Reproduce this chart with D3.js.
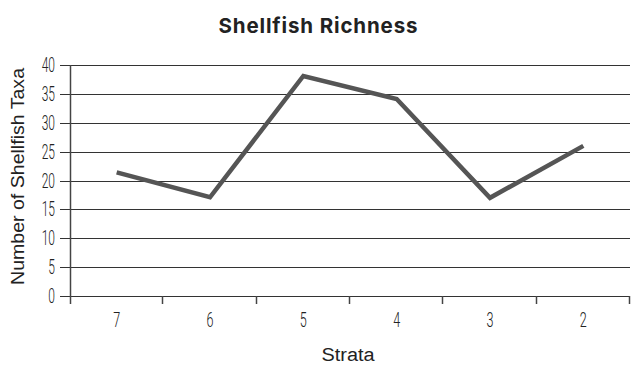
<!DOCTYPE html>
<html><head><meta charset="utf-8">
<script src="https://cdn.jsdelivr.net/npm/d3@7"></script>
<style>body{margin:0;background:#fff}svg{display:block}</style>
</head><body><div id="chart"></div>
<script>
const categories = ["7","6","5","4","3","2"];
const values = [21.4, 17.1, 38.1, 34.1, 17.0, 26.0];
const yTicks = [0,5,10,15,20,25,30,35,40];

const W = 632, H = 365;
const m = {left:70, right:2, top:65, bottom:69};
const svg = d3.select("#chart").append("svg").attr("width",W).attr("height",H);
const x = d3.scaleBand().domain(categories).range([m.left, W-m.right]);
const y = d3.scaleLinear().domain([0,40]).range([H-m.bottom, m.top]);
const tickFont = "Roboto,'DejaVu Sans',sans-serif";
const sans = "'Liberation Sans',Arial,sans-serif";
const SX = 0.6;

// gridlines
svg.append("g").selectAll("line").data(yTicks).join("line")
  .attr("x1", m.left-10).attr("x2", W-m.right)
  .attr("y1", d=>Math.round(y(d))+0.5).attr("y2", d=>Math.round(y(d))+0.5)
  .attr("stroke","#333").attr("stroke-width",1);

// y tick labels (condensed)
svg.append("g").selectAll("text").data(yTicks).join("text")
  .attr("transform", d=>`translate(${m.left-15},${y(d)+7}) scale(${SX},1)`)
  .attr("text-anchor","end").attr("font-family",tickFont).attr("font-weight",300)
  .attr("font-size",20).attr("fill","#222").text(d=>d);

// y axis line
svg.append("line").attr("x1",m.left+0.5).attr("x2",m.left+0.5)
  .attr("y1",m.top).attr("y2",H-m.bottom+8).attr("stroke","#444").attr("stroke-width",1.5);

// x axis ticks
const xt = categories.map(c=>x(c)).concat([x(categories[categories.length-1])+x.bandwidth()]);
svg.append("g").selectAll("line").data(xt.slice(1)).join("line")
  .attr("x1",d=>Math.round(d)-0.5).attr("x2",d=>Math.round(d)-0.5)
  .attr("y1",H-m.bottom).attr("y2",H-m.bottom+8).attr("stroke","#444").attr("stroke-width",1.5);

svg.append("g").selectAll("text").data(categories).join("text")
  .attr("transform", d=>`translate(${x(d)+x.bandwidth()/2},${H-m.bottom+31}) scale(${SX},1)`)
  .attr("text-anchor","middle").attr("font-family",tickFont).attr("font-weight",300)
  .attr("font-size",21).attr("fill","#222").text(d=>d);

// line
const line = d3.line().x((d,i)=>x(categories[i])+x.bandwidth()/2).y(d=>y(d));
svg.append("path").datum(values).attr("d",line).attr("fill","none")
  .attr("stroke","#555").attr("stroke-width",4.5).attr("stroke-linejoin","miter");

// title
svg.append("text").attr("x",318).attr("y",33).attr("text-anchor","middle")
  .attr("font-family","Inter,'Open Sans',sans-serif").attr("font-weight",700).attr("font-size",20.5)
  .attr("textLength",199).attr("lengthAdjust","spacing")
  .attr("fill","#222").text("Shellfish Richness");

svg.append("text").attr("x",348).attr("y",361).attr("text-anchor","middle")
  .attr("font-family",sans).attr("font-size",18).attr("fill","#222")
  .attr("textLength",53).attr("lengthAdjust","spacingAndGlyphs").text("Strata");

svg.append("text").attr("transform","translate(24,176.5) rotate(-90)").attr("text-anchor","middle")
  .attr("font-family",sans).attr("font-size",18).attr("fill","#222")
  .attr("textLength",217).attr("lengthAdjust","spacingAndGlyphs").text("Number of Shellfish Taxa");
</script></body></html>
